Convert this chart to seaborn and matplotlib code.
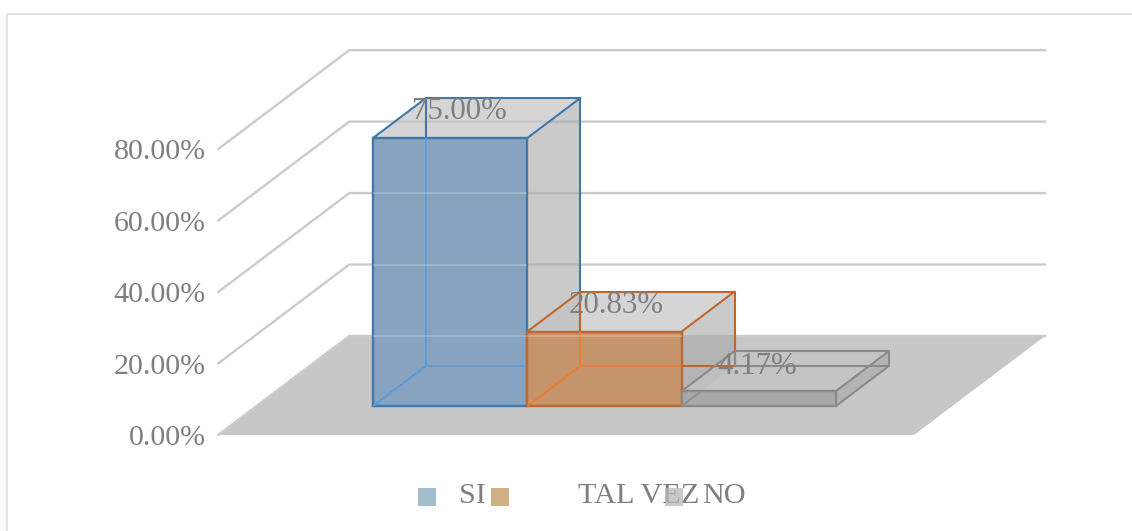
"""Recreates a pseudo-3D Excel column chart with seaborn bars and projected faces."""

import matplotlib

matplotlib.use("Agg")

import matplotlib.pyplot as plt
import pandas as pd
import seaborn as sns
from matplotlib.patches import Polygon, Rectangle
from matplotlib.transforms import Affine2D

categories = ["SI", "TAL VEZ", "NO"]
values = [75.00, 20.83, 4.17]
value_labels = ["75.00%", "20.83%", "4.17%"]
grid_values = [0, 20, 40, 60, 80]
tick_labels = ["0.00%", "20.00%", "40.00%", "60.00%", "80.00%"]

front_colors = ["#87a3bf", "#c5946b", "#a8a8a8"]
edge_colors = ["#3f78ab", "#bd682f", "#8a8a8a"]
inner_colors = ["#5b9bd5", "#ed7d31", "#8f8f8f"]
swatch_colors = ["#9dbacb", "#cfab7f", "#b8b8b8"]
swatch_alpha = [0.95, 0.95, 0.75]
floor_edge = [False, False, True]  # side-face floor diagonal is only visible on the last bar
TEXT = "#7f7f7f"
GRID = "#cbcbcb"
FLOOR = "#c7c7c7"
FONT = "Liberation Serif"
TICK_SIZE = 21.6
LABEL_SIZE = 22.2
LEGEND_SIZE = 21.8

W, H = 1132, 531
PX_X = 154.3  # pixels per category
PX_Y = 3.573  # pixels per percentage point
BASE_PX, LEFT_PX = 406, 373
DEPTH = (53 / PX_X, 40 / PX_Y)  # one bar depth, in data units
FLOOR_LEFT, FLOOR_RIGHT = -1.255, 3.255
FLOOR_FRONT, FLOOR_BACK = -0.725, 1.75


def project(x, y, d=0.0):
    return x + d * DEPTH[0], y + d * DEPTH[1]


def draw_room(ax):
    """Floor and the L-shaped gridlines running along the side and back walls."""
    corners = [
        project(FLOOR_LEFT, 0, FLOOR_FRONT),
        project(FLOOR_RIGHT, 0, FLOOR_FRONT),
        project(FLOOR_RIGHT, 0, FLOOR_BACK),
        project(FLOOR_LEFT, 0, FLOOR_BACK),
    ]
    ax.add_patch(Polygon(corners, closed=True, facecolor=FLOOR, edgecolor="none", zorder=1))
    for v, label in zip(grid_values, tick_labels):
        pts = [
            project(FLOOR_LEFT, v, FLOOR_FRONT),
            project(FLOOR_LEFT, v, FLOOR_BACK),
            project(FLOOR_RIGHT, v, FLOOR_BACK),
        ]
        ax.plot(*zip(*pts), color=GRID, lw=1.7, zorder=1.5, solid_joinstyle="miter")
        x, y = project(FLOOR_LEFT, v, FLOOR_FRONT)
        ax.annotate(label, (x, y), xytext=(-9, -2.2), textcoords="offset points",
                    ha="right", va="center", color=TEXT, fontsize=TICK_SIZE, family=FONT)


def draw_bar_faces(ax, bar, edge, inner, front, show_floor_edge):
    """Add top and side faces behind a seaborn bar, then the lines seen through it."""
    x0, x1 = bar.get_x(), bar.get_x() + bar.get_width()
    top = bar.get_height()

    top_face = [project(x0, top), project(x1, top), project(x1, top, 1), project(x0, top, 1)]
    side_face = [project(x1, 0), project(x1, top), project(x1, top, 1), project(x1, 0, 1)]
    ax.add_patch(Polygon(side_face, closed=True, facecolor="#a8a8a8", alpha=0.6,
                         edgecolor="none", zorder=2))
    ax.add_patch(Polygon(top_face, closed=True, facecolor="#c4c4c4", alpha=0.7,
                         edgecolor="none", zorder=2))

    # back edges, dark where they are not hidden by the front face
    back = [project(x0, top, 1), project(x1, top, 1), project(x1, 0, 1), project(x0, 0, 1),
            project(x0, top, 1)]
    ax.plot(*zip(*back), color=edge, lw=1.5, zorder=3)
    segments = [(project(x0, top), project(x0, top, 1)), (project(x1, top), project(x1, top, 1)),
                (project(x1, 0), project(x1, top))]
    if show_floor_edge:
        segments.append((project(x1, 0), project(x1, 0, 1)))
    for p, q in segments:
        ax.plot(*zip(p, q), color=edge, lw=1.5, zorder=3)

    bar.set_facecolor(front)
    bar.set_edgecolor(edge)
    bar.set_linewidth(1.7)
    bar.set_zorder(4)

    # lines that show through the translucent front face
    through = [
        ([project(x0, 0), project(x0, 0, 1)], inner, 1.0),
        ([project(x0, 0, 1), project(x0, top, 1)], inner, 1.0),
        ([project(x0, 0, 1), project(x1, 0, 1)], inner, 0.6),
        ([project(x1, 0, 1), project(x1, top, 1)], inner, 1.0),
    ]
    for v in grid_values:
        through.append(([project(FLOOR_LEFT, v, FLOOR_BACK), project(FLOOR_RIGHT, v, FLOOR_BACK)],
                        "#ffffff", 0.22))
    for pts, color, alpha in through:
        line, = ax.plot(*zip(*pts), color=color, alpha=alpha, lw=1.4, zorder=5)
        line.set_clip_path(Rectangle((x0, 0), x1 - x0, top, transform=ax.transData))


def draw_legend(fig, px):
    swatch_x = [418, 491, 665]
    text_x = [459, 578, 702]
    for name, color, alpha, sx, tx in zip(categories, swatch_colors, swatch_alpha, swatch_x, text_x):
        fig.text(tx, 496, name, transform=px, ha="left", va="center", color=TEXT,
                 fontsize=LEGEND_SIZE, family=FONT, zorder=6)
        fig.add_artist(Rectangle((sx, 488), 18, 18, transform=px, facecolor=color,
                                 edgecolor="none", alpha=alpha, zorder=7))


def main():
    sns.set_theme(style="white")
    fig = plt.figure(figsize=(W / 100, H / 100), dpi=100, facecolor="white")
    ax = fig.add_axes([0, 0, 1, 1])
    px = Affine2D().scale(1 / W, -1 / H).translate(0, 1) + fig.transFigure

    df = pd.DataFrame({"categoria": categories, "valor": values})
    sns.barplot(data=df, x="categoria", y="valor", hue="categoria", palette=front_colors,
                width=1, saturation=1, legend=False, ax=ax)
    bars = list(ax.patches)

    x_left = -0.5 - LEFT_PX / PX_X
    ax.set_xlim(x_left, x_left + W / PX_X)
    ax.set_ylim((BASE_PX - H) / PX_Y, BASE_PX / PX_Y)
    ax.set_axis_off()

    draw_room(ax)
    for bar, edge, inner, front, flag in zip(bars, edge_colors, inner_colors, front_colors, floor_edge):
        draw_bar_faces(ax, bar, edge, inner, front, flag)

    offsets = [(6.5, 19), (8.5, 19), (-1, 17.5)]
    for bar, label, off in zip(bars, value_labels, offsets):
        ax.annotate(label, (bar.get_x() + bar.get_width() / 2, bar.get_height()), xytext=off,
                    textcoords="offset points", ha="center", va="center", color=TEXT,
                    fontsize=LABEL_SIZE, family=FONT, zorder=8)

    draw_legend(fig, px)

    # chart frame
    frame = Rectangle((7, 14), W, H, transform=px, facecolor="none", edgecolor="#dedede", lw=1.2)
    fig.add_artist(frame)

    fig.savefig("out.png", dpi=100)
    plt.close(fig)


if __name__ == "__main__":
    main()
